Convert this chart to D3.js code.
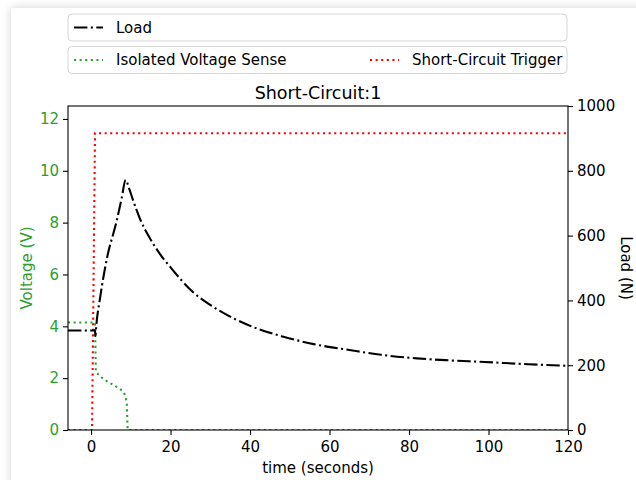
<!DOCTYPE html>
<html>
<head>
<meta charset="utf-8">
<script src="https://cdn.jsdelivr.net/npm/d3@7"></script>
<style>
  body { margin: 0; background: #fff; }
  svg { display: block; font-family: "DejaVu Sans", sans-serif; }
</style>
</head>
<body>
<svg id="chart" width="636" height="480"></svg>
<script>
// load cell force (N), right axis
var loadTime = [-5.8, 1.0, 1.1, 1.3, 2.3, 4.0, 6.4, 7.7, 8.7, 9.5, 10.5, 12.3, 14.8, 17.4, 20, 25.7, 30, 36.6, 42, 48.4, 56, 65, 73, 82, 90, 99, 110, 120];
var loadN    = [307, 307, 290, 320, 410, 530, 643, 715, 772, 748, 712, 652, 592, 542, 502, 425, 386, 340, 312, 288, 265, 247, 232, 221, 215, 210, 203, 198];

// isolated voltage sense (V), left axis
var senseTime = [-5.8, 1.0, 1.2, 2.3, 4.0, 5.6, 7.0, 8.1, 8.7, 9.0, 9.1, 9.2, 120];
var senseV    = [4.15, 4.15, 2.25, 2.06, 1.88, 1.74, 1.62, 1.48, 1.3, 1.0, 0.5, 0, 0];

// short-circuit trigger (V), left axis
var trigTime = [-5.8, 0.25, 1.0, 120];
var trigV    = [0, 0, 11.45, 11.45];

var xTicks = [0, 20, 40, 60, 80, 100, 120];
var vTicks = [0, 2, 4, 6, 8, 10, 12];
var nTicks = [0, 200, 400, 600, 800, 1000];

var green = '#2ca02c';
var svg = d3.select('#chart');

// card with soft shadow
var defs = svg.append('defs');
var f = defs.append('filter').attr('id', 'shadow')
    .attr('x', '-10%').attr('y', '-10%').attr('width', '120%').attr('height', '120%');
f.append('feDropShadow').attr('dx', 0).attr('dy', 0)
    .attr('stdDeviation', 4).attr('flood-color', '#000').attr('flood-opacity', 0.18);
svg.append('rect').attr('x', 11).attr('y', 8).attr('width', 700).attr('height', 600)
    .attr('fill', '#fff').attr('filter', 'url(#shadow)');

var m = {left: 68, right: 568, top: 106, bottom: 430};

var x = d3.scaleLinear().domain([-5.8, 120]).range([m.left, m.right]);
var yV = d3.scaleLinear().domain([0, 12.5]).range([m.bottom, m.top]);
var yN = d3.scaleLinear().domain([0, 1000]).range([m.bottom, m.top]);

defs.append('clipPath').attr('id', 'plot')
    .append('rect').attr('x', m.left).attr('y', m.top)
    .attr('width', m.right - m.left).attr('height', m.bottom - m.top);

var g = svg.append('g').attr('clip-path', 'url(#plot)');

function pts(xs, ys) { return xs.map(function(d, i) { return [d, ys[i]]; }); }

var lineV = d3.line().x(function(d) { return x(d[0]); }).y(function(d) { return yV(d[1]); });
var lineN = d3.line().curve(d3.curveMonotoneX)
    .x(function(d) { return x(d[0]); }).y(function(d) { return yN(d[1]); });

g.append('path').datum(pts(senseTime, senseV)).attr('d', lineV)
    .attr('fill', 'none').attr('stroke', green).attr('stroke-width', 2.1)
    .attr('stroke-dasharray', '2.1,3.5');
g.append('path').datum(pts(trigTime, trigV)).attr('d', lineV)
    .attr('fill', 'none').attr('stroke', 'red').attr('stroke-width', 2.1)
    .attr('stroke-dasharray', '2.1,3.5');
g.append('path').datum(pts(loadTime, loadN)).attr('d', lineN)
    .attr('fill', 'none').attr('stroke', '#000').attr('stroke-width', 2.1)
    .attr('stroke-dasharray', '13.4,3.4,2.1,3.4');

// axes
function style(sel, color) {
    sel.select('.domain').remove();
    sel.selectAll('line').attr('stroke', '#000').attr('stroke-width', 1.1);
    sel.selectAll('text').attr('fill', color).style('font-size', '15px')
        .style('font-family', '"DejaVu Sans", sans-serif');
}

svg.append('g').attr('transform', 'translate(0,' + m.bottom + ')')
    .call(d3.axisBottom(x).tickValues(xTicks).tickSize(5).tickPadding(6))
    .call(style, '#000');
svg.append('g').attr('transform', 'translate(' + m.left + ',0)')
    .call(d3.axisLeft(yV).tickValues(vTicks).tickSize(5).tickPadding(4))
    .call(style, green);
svg.append('g').attr('transform', 'translate(' + m.right + ',0)')
    .call(d3.axisRight(yN).tickValues(nTicks).tickFormat(d3.format('d')).tickSize(5).tickPadding(4))
    .call(style, '#000');

svg.append('rect').attr('x', m.left).attr('y', m.top)
    .attr('width', m.right - m.left).attr('height', m.bottom - m.top)
    .attr('fill', 'none').attr('stroke', '#000').attr('stroke-width', 1.1);

// labels
svg.append('text').attr('x', (m.left + m.right) / 2).attr('y', 473)
    .attr('text-anchor', 'middle').style('font-size', '15px').text('time (seconds)');
svg.append('text').attr('transform', 'translate(27,268) rotate(-90)')
    .attr('text-anchor', 'middle').attr('dy', '0.35em').attr('fill', green)
    .style('font-size', '15px').text('Voltage (V)');
svg.append('text').attr('transform', 'translate(626,268) rotate(90)')
    .attr('text-anchor', 'middle').attr('dy', '0.35em')
    .style('font-size', '15px').text('Load (N)');
svg.append('text').attr('x', (m.left + m.right) / 2).attr('y', 99)
    .attr('text-anchor', 'middle').style('font-size', '17.5px').text('Short-Circuit:1');

// legends
var legends = [
    {y: 14, items: [{label: 'Load', color: '#000', dash: '13.4,3.4,2.1,3.4', x: 74}]},
    {y: 46.5, items: [
        {label: 'Isolated Voltage Sense', color: green, dash: '2.1,3.5', x: 74},
        {label: 'Short-Circuit Trigger', color: 'red', dash: '2.1,3.5', x: 370}
    ]}
];
legends.forEach(function(l) {
    var lg = svg.append('g');
    lg.append('rect').attr('x', 68).attr('y', l.y).attr('width', 499).attr('height', 27)
        .attr('rx', 4).attr('fill', '#fff').attr('stroke', '#d6d6d6').attr('stroke-width', 1);
    l.items.forEach(function(it) {
        var cy = l.y + 13.5;
        lg.append('line').attr('x1', it.x).attr('x2', it.x + 29).attr('y1', cy).attr('y2', cy)
            .attr('stroke', it.color).attr('stroke-width', 2.1).attr('stroke-dasharray', it.dash);
        lg.append('text').attr('x', it.x + 42).attr('y', cy).attr('dy', '0.35em')
            .style('font-size', '15px').text(it.label);
    });
});
</script>
</body>
</html>
